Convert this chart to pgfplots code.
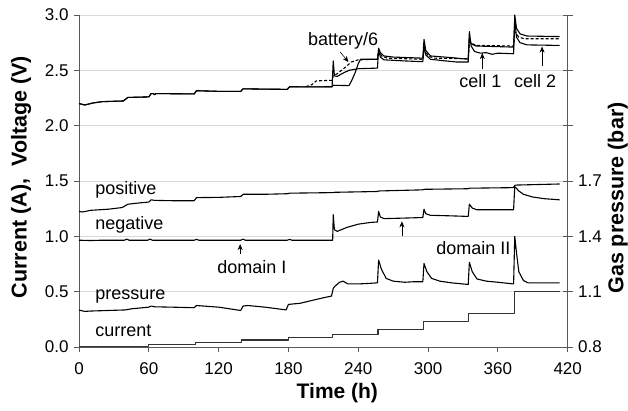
\documentclass[border=0pt]{standalone}
\usepackage{fontspec}
\setmainfont{Liberation Sans}
\usepackage{pgfplots}
\pgfplotsset{compat=1.18}
\usetikzlibrary{arrows.meta}
\tikzset{arr/.style={-{Stealth[length=6pt,width=5pt]}, line width=0.6pt}}

\begin{document}
\begin{tikzpicture}[font=\fontsize{18}{21}\selectfont]
\pgfplotsset{
  common/.style={
    at={(0,0)}, anchor=south west,
    scale only axis, width=488.7pt, height=332pt,
    xmin=0, xmax=420, clip=false,
    axis line style={draw=black!65, line width=0.9pt},
    tick style={draw=black!65, line width=0.9pt},
    tick label style={font=\fontsize{17}{20}\selectfont},
    /pgf/number format/assume math mode=true,
  },
  dat/.style={black, line width=1.1pt, line join=round},
}
\begin{axis}[common,
  ymin=0, ymax=3,
  xtick={0,60,...,420}, ytick={0,0.5,...,3},
  axis x line*=bottom, axis y line*=left,
  tick align=outside, major tick length=5pt,
  ymajorgrids, grid style={black!15, line width=0.7pt},
  yticklabel style={/pgf/number format/fixed, /pgf/number format/fixed zerofill, /pgf/number format/precision=1, xshift=-2pt},
  xticklabel style={yshift=-7pt},
]
% current (A)
\addplot[dat, black!80, const plot] coordinates {
(0,0.003) (40,0.008) (60,0.025) (100,0.042) (140,0.063) (180,0.085) (218,0.115)
(257,0.16) (296,0.23) (335,0.30) (374,0.50) (413,0.50)};
% positive electrode
\addplot[dat] coordinates {
(0,1.225) (3,1.22) (10,1.235) (25,1.245) (37,1.26) (42,1.29) (50,1.3) (60,1.31) (62,1.33) (65,1.325)
(80,1.322) (99,1.322) (101,1.35) (120,1.352) (139,1.36) (141,1.38) (160,1.38) (179,1.385) (181,1.39)
(218,1.395) (220,1.398) (256,1.405) (258,1.41) (295,1.42) (297,1.425) (334,1.43) (336,1.435)
(373,1.44) (375,1.463) (413,1.473)};
% negative electrode
\addplot[dat] coordinates {
(0,0.965) (10,0.962) (20,0.965) (39,0.965) (41,0.975) (43,0.965) (59,0.965) (61,0.975) (63,0.965)
(99,0.965) (101,0.973) (103,0.965) (139,0.965) (141,0.975) (143,0.965) (179,0.965) (181,0.973) (183,0.965)
(218,0.965) (218.5,1.195) (219.5,1.06) (222,1.045) (230,1.08) (240,1.11) (250,1.125) (256.5,1.13)
(257.5,1.225) (259,1.175) (262,1.16) (280,1.165) (295.5,1.17) (296.5,1.245) (298,1.205) (302,1.19)
(320,1.185) (334.5,1.18) (335.5,1.29) (338,1.255) (342,1.24) (373.5,1.24) (374.5,1.45) (378,1.41)
(382,1.38) (390,1.355) (400,1.34) (413,1.33)};
% cell 1
\addplot[dat] coordinates {
(0,2.2) (5,2.187) (12,2.205) (20,2.217) (38,2.223) (42,2.255) (60,2.26) (62,2.29) (64,2.29) (65,2.28) (66,2.29)
(99,2.287) (101,2.316) (120,2.31) (139,2.31) (141,2.333) (160,2.33) (179,2.328) (181,2.352) (200,2.35)
(217.5,2.352) (218.5,2.585) (219.5,2.45) (222,2.445) (226,2.47) (232,2.5) (240,2.515) (256.5,2.52)
(257.5,2.7) (259,2.66) (262,2.63) (270,2.62) (295.5,2.61) (296.5,2.78) (298,2.68) (302,2.63) (320,2.615)
(334.5,2.6) (335.5,2.85) (337,2.72) (340,2.67) (345,2.655) (350,2.66) (355,2.645) (360,2.655) (373.5,2.65)
(374.5,3.0) (376,2.88) (379,2.83) (385,2.81) (413,2.805)};
% cell 2
\addplot[dat] coordinates {
(0,2.2) (5,2.187) (12,2.205) (20,2.217) (38,2.223) (42,2.255) (60,2.26) (62,2.29) (64,2.29) (65,2.28) (66,2.29)
(99,2.287) (101,2.316) (120,2.31) (139,2.31) (141,2.333) (160,2.33) (179,2.328) (181,2.352) (200,2.35)
(217.5,2.352) (218.5,2.365) (232,2.362) (234,2.4) (237,2.47) (240,2.56) (242,2.6) (256.5,2.6)
(257.5,2.68) (259,2.62) (262,2.595) (280,2.585) (295.5,2.578) (296.5,2.72) (298,2.64) (302,2.6)
(315,2.585) (325,2.575) (334.5,2.575) (335.5,2.8) (337,2.74) (341,2.72) (373.5,2.71)
(374.5,2.95) (376,2.8) (379,2.75) (385,2.73) (413,2.725)};
% battery/6
\addplot[dat, dash pattern=on 3pt off 2pt] coordinates {
(195,2.352) (200,2.37) (204,2.405) (217.5,2.41) (218.5,2.45) (222,2.47) (228,2.52) (234,2.575) (240,2.595)
(256.5,2.6) (257.5,2.68) (260,2.63) (265,2.61) (295.5,2.6) (296.5,2.7) (300,2.63) (305,2.61) (334.5,2.605)
(335.5,2.76) (338,2.74) (342,2.725) (373.5,2.72) (374.5,2.85) (378,2.8) (383,2.785) (413,2.785)};

% annotations
\node[anchor=west] at (axis cs:11,1.42) {positive};
\node[anchor=west] at (axis cs:11,1.10) {negative};
\node[anchor=west] at (axis cs:11,0.46) {pressure};
\node[anchor=west] at (axis cs:11,0.147) {current};
\node at (axis cs:148.5,0.726) {domain I};
\draw[arr] (axis cs:138.5,0.84) -- (axis cs:138.5,0.93);
\draw[arr] (axis cs:277.5,1.0) -- (axis cs:277.5,1.135);
\node at (axis cs:339,0.892) {domain II};
\node at (axis cs:227,2.77) {battery/6};
\draw[arr] (axis cs:224.5,2.665) -- (axis cs:231.6,2.575);
\node at (axis cs:345,2.40) {cell 1};
\draw[arr] (axis cs:346.6,2.51) -- (axis cs:346.6,2.655);
\node at (axis cs:392,2.40) {cell 2};
\draw[arr] (axis cs:398,2.54) -- (axis cs:398,2.715);

% axis titles
\node[rotate=90, font=\fontsize{21.5}{25}\selectfont\bfseries] at ([xshift=-58pt,yshift=4pt]rel axis cs:0,0.5) {Current (A),\ \ Voltage (V)};
\node[font=\fontsize{21}{25}\selectfont\bfseries] at ([xshift=14pt,yshift=-46pt]rel axis cs:0.5,0) {Time (h)};
\end{axis}

\begin{axis}[common,
  ymin=0.8, ymax=2.6,
  axis x line=none, axis y line*=right,
  ytick={0.8,1.1,1.4,1.7,2.0,2.3,2.6}, yticklabels={0.8,1.1,1.4,1.7,,,},
  tick align=center, major tick length=10pt,
  yticklabel style={xshift=2pt},
]
% gas pressure (bar)
\addplot[dat] coordinates {
(0,1.000) (5,0.993) (10,0.995) (25,0.998) (40,1.001) (45,1.007) (60,1.016) (62,1.022) (65,1.018)
(80,1.016) (99,1.013) (101,1.025) (105,1.023) (120,1.016) (139,0.998) (141,1.022) (145,1.025)
(160,1.016) (178,1.001) (180,1.031) (190,1.037) (200,1.052) (210,1.067) (217,1.076) (218.5,1.118)
(220,1.13) (224,1.151) (227,1.157) (231,1.142) (240,1.142) (250,1.145) (256.5,1.148) (257.5,1.271)
(260,1.22) (264,1.172) (270,1.157) (280,1.151) (288,1.154) (295.5,1.154) (296.5,1.253) (299,1.208)
(303,1.172) (310,1.157) (320,1.148) (334.5,1.139) (335.5,1.259) (338,1.208) (342,1.169) (350,1.157)
(360,1.151) (373.5,1.142) (374.5,1.4) (376,1.31) (378,1.208) (382,1.16) (386,1.148) (413,1.148)};
\node[rotate=90, font=\fontsize{21.5}{25}\selectfont\bfseries] at ([xshift=50pt,yshift=-17pt]rel axis cs:1,0.5) {Gas pressure (bar)};
\end{axis}
\pgfresetboundingbox
\path (-79pt,-63pt) rectangle (549pt,347pt);
\end{tikzpicture}
\end{document}
